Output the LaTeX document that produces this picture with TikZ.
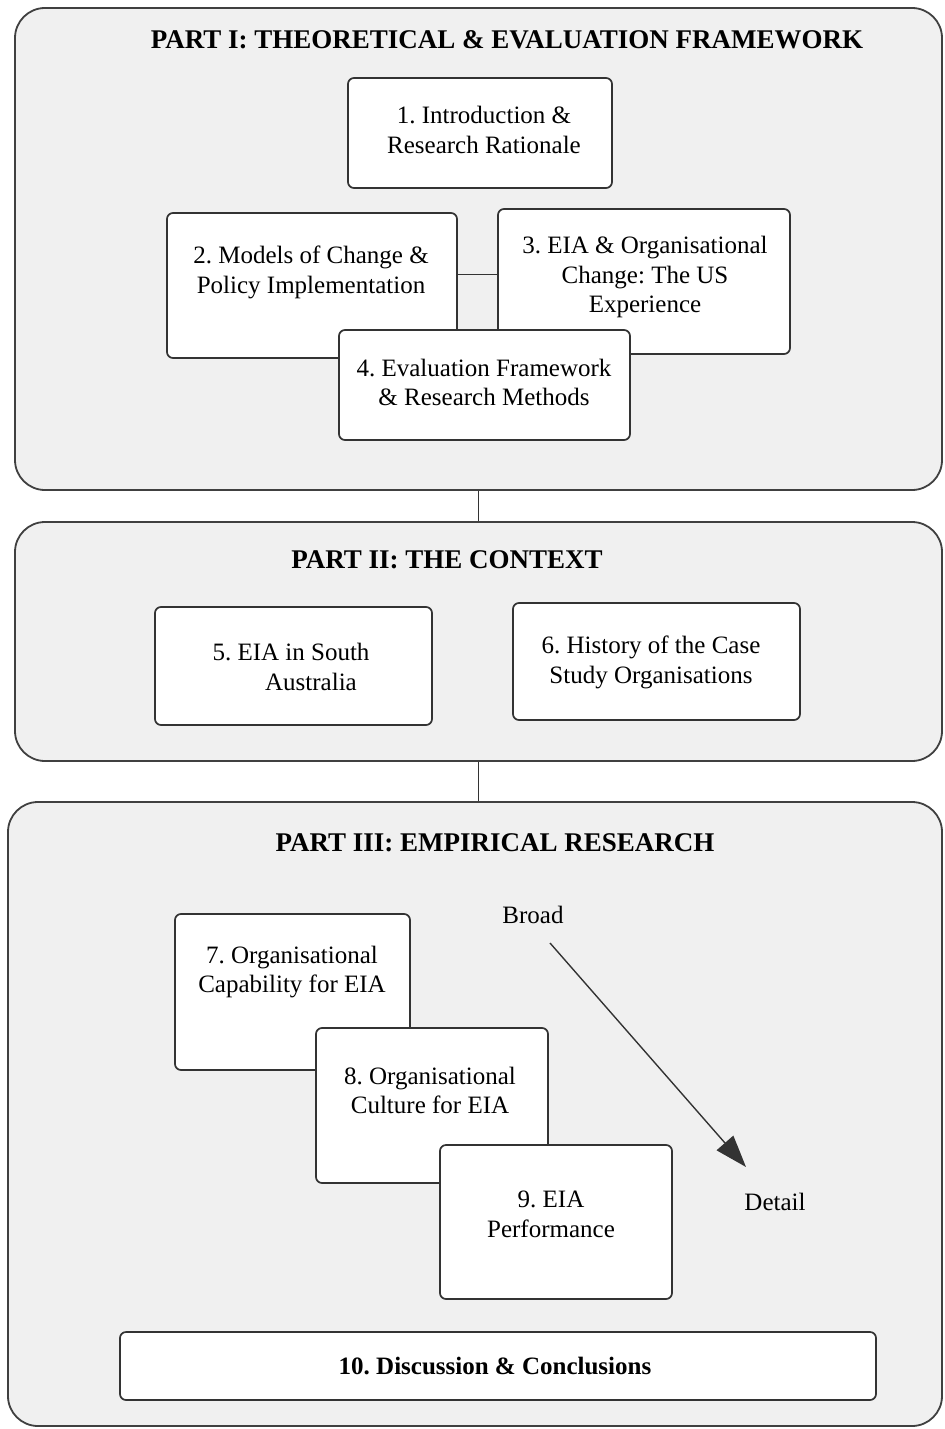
\documentclass[tikz,border=0pt]{standalone}
\usepackage{fontspec}
\setmainfont{Liberation Serif}
\usetikzlibrary{arrows.meta,calc}
\frenchspacing
\begin{document}
\begin{tikzpicture}[x=0.5pt,y=-0.5pt,
  panel/.style={draw=black!75, line width=0.9pt, fill=black!6, rounded corners=15pt, minimum width=#1},
  box/.style={draw=black!80, line width=0.85pt, fill=white, rounded corners=3pt},
  txt/.style={align=center, font=\fontsize{12.5}{14.8}\selectfont, inner sep=0pt},
  title/.style={font=\fontsize{13.5}{16}\selectfont\bfseries, inner sep=0pt},
  link/.style={draw=black!80, line width=0.7pt}]
\useasboundingbox[fill=white] (0,0) rectangle (944,1429);

% three part panels
\node[panel=463.5pt, minimum height=241pt] (p1) at (478.5,249) {};
\node[panel=463.5pt, minimum height=119.5pt] (p2) at (478.5,641.5) {};
\node[panel=467pt, minimum height=312pt] (p3) at (475,1114) {};
\draw[link] (p1.south) -- (p2.north);
\draw[link] (p2.south) -- (p2.south |- p3.north);

\node[title] (h1) at (507,40) {PART I: THEORETICAL \& EVALUATION FRAMEWORK};
\node[title] (h2) at (447,560) {PART II: THE CONTEXT};
\node[title] (h3) at (495,843) {PART III: EMPIRICAL RESEARCH};

% Part I chapters
\node[box, minimum width=132pt, minimum height=55pt] (b1) at (480,133) {};
\node[txt] (t1) at (484,130) {1. Introduction \&\\Research Rationale};

\node[box, minimum width=145pt, minimum height=72.5pt] (b2) at (312,285.5) {};
\node[box, minimum width=146pt, minimum height=72.5pt] (b3) at (644,281.5) {};
\coordinate (c23) at ($(b2.east)+(0,-11)$);
\draw[link] (c23) -- (c23 -| b3.west);
\node[txt] (t2) at (311,272.5) {2. Models of Change \&\\Policy Implementation};
\node[txt] (t3) at (645,277) {3. EIA \& Organisational\\Change: The US\\Experience};

\node[box, minimum width=145.5pt, minimum height=55pt] (b4) at (484.5,385) {};
\node[txt] (t4) at (484,382.5) {4. Evaluation Framework\\\& Research Methods};

% Part II chapters
\node[box, minimum width=138.5pt, minimum height=59pt] (b5) at (293.5,666) {};
\node[txt] (t5) at (291,667) {5. EIA in South\\\hspace*{20pt}Australia};
\node[box, minimum width=143.5pt, minimum height=58.5pt] (b6) at (656.5,661.5) {};
\node[txt] (t6) at (651,662.5) {6. History of the Case\\Study Organisations};

% Part III chapters
\node[box, minimum width=117.5pt, minimum height=78pt] (b7) at (292.5,992) {};
\node[txt] (t7) at (292,972) {7. Organisational\\Capability for EIA};
\node[box, minimum width=116pt, minimum height=77.5pt] (b8) at (432,1105.5) {};
\node[txt] (t8) at (430,1090.5) {8. Organisational\\Culture for EIA};
\node[box, minimum width=116pt, minimum height=77pt] (b9) at (556,1222) {};
\node[txt] (t9) at (551,1214.5) {9. EIA\\Performance};

\node[txt] (broad) at (533,915) {Broad};
\node[txt] (detail) at (775,1202) {Detail};
\coordinate (a0) at (550,943);
\coordinate (a1) at (746,1167);
\draw[link, -{Triangle[length=16pt,width=11pt]}] (a0) -- (a1);

\node[box, minimum width=378pt, minimum height=34pt] (b10) at (498,1366) {};
\node[txt, font=\fontsize{12.5}{14.8}\selectfont\bfseries] (t10) at (495,1366) {10. Discussion \& Conclusions};
\end{tikzpicture}
\end{document}
